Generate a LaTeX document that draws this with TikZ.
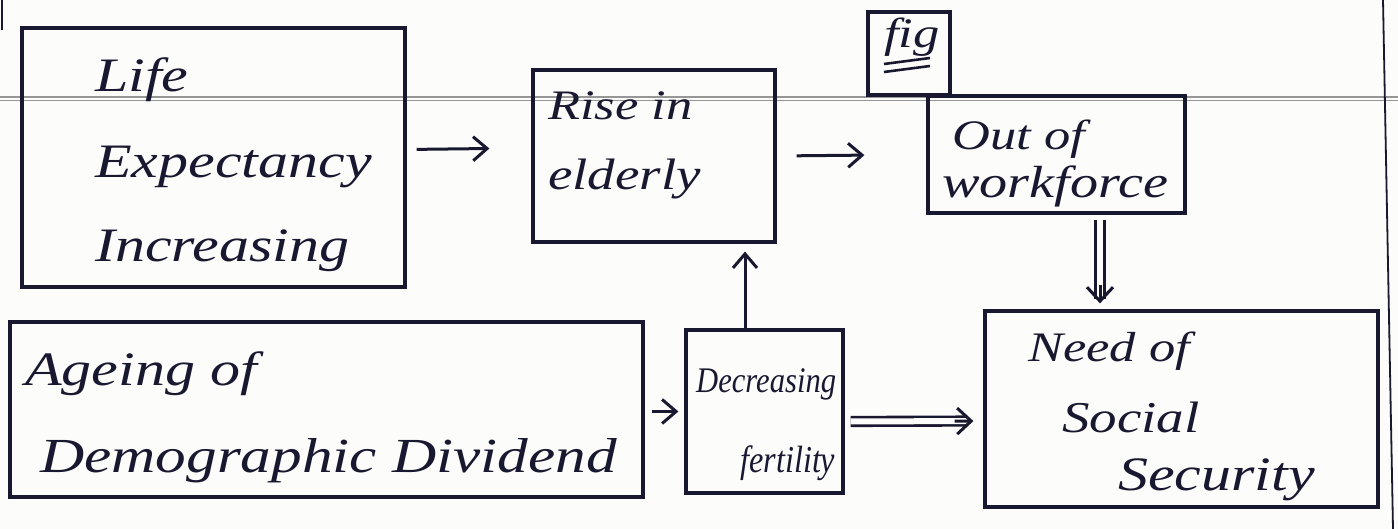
\documentclass[tikz,border=0pt]{standalone}
\usepackage{fontspec}
\newfontfamily\handfont{Liberation Serif}[FakeStretch=1.25]
\newfontfamily\handnarrow{Liberation Serif}[FakeStretch=0.85]
\usetikzlibrary{arrows.meta,calc}
\definecolor{ink}{RGB}{24,24,48}
\definecolor{paper}{RGB}{252,252,250}
\definecolor{rule}{RGB}{150,150,150}
\tikzset{
  box/.style={draw=ink, line width=3.2pt, inner sep=0pt},
  hand/.style={anchor=base west, inner sep=0pt, text=ink},
  arr/.style={draw=ink, line width=3pt, -{Straight Barb[length=14pt,width=24pt,line width=3pt]}},
  dbl/.style={draw=ink, line width=2.6pt, double=paper, double distance=6pt},
  dbltip/.style={draw=ink, line width=3pt, -{Straight Barb[length=14pt,width=26pt,line width=3pt]}},
}
\newcommand{\hf}[1]{\handfont\itshape\fontsize{#1}{#1}\selectfont}
\newcommand{\hn}[1]{\handnarrow\itshape\fontsize{#1}{#1}\selectfont}
\begin{document}
\begin{tikzpicture}[x=1pt,y=-1pt]
\useasboundingbox (0,0) rectangle (1398,529);
\fill[paper] (0,0) rectangle (1398,529);
% notebook rules
\draw[rule, line width=1.4pt] (0,97) -- (1398,97);
\draw[rule, line width=1pt] (0,101) -- (1398,101);
\draw[ink, line width=1.8pt] (1383,0) -- (1393,529);
\draw[ink, line width=1.8pt] (2,0) -- (2,30);
% boxes
\node[box, minimum width=383pt, minimum height=259pt] (life) at (213.5,157.5) {};
\node[box, minimum width=242pt, minimum height=172pt] (rise) at (654,156) {};
\node[box, minimum width=82pt,  minimum height=83pt]  (fig)  at (909,53.5) {};
\node[box, minimum width=257pt, minimum height=117pt] (out)  at (1056.5,154.5) {};
\node[box, minimum width=633pt, minimum height=175pt] (age)  at (326.5,409.5) {};
\node[box, minimum width=157pt, minimum height=163pt] (dec)  at (764.5,411.5) {};
\node[box, minimum width=393pt, minimum height=196pt] (need) at (1181.5,409) {};
% texts
\node[hand, font=\hf{48}] (t1) at (95,92) {Life};
\node[hand, font=\hf{48}] (t2) at (95,178) {Expectancy};
\node[hand, font=\hf{48}] (t3) at (95,262) {Increasing};
\node[hand, font=\hf{42}] (t4) at (548,120) {Rise in};
\node[hand, font=\hf{44}] (t5) at (548,190) {elderly};
\node[hand, font=\hf{42}] (t6) at (884,48) {fig};
\draw[ink, line width=2.6pt] (884,64) -- (930,58);
\draw[ink, line width=2.6pt] (884,72) -- (930,66);
\node[hand, font=\hf{42}] (t7) at (952,150) {Out of};
\node[hand, font=\hf{45}] (t8) at (942,198) {workforce};
\node[hand, font=\hf{48}] (t9) at (25,385) {Ageing of};
\node[hand, font=\hf{49}] (t10) at (40,472) {Demographic Dividend};
\node[hand, font=\hn{36}] (t11) at (696,392) {Decreasing};
\node[hand, font=\hn{38}] (t12) at (740,472) {fertility};
\node[hand, font=\hf{42}] (t13) at (1028,362) {Need of};
\node[hand, font=\hf{44}] (t14) at (1062,432) {Social};
\node[hand, font=\hf{48}] (t15) at (1118,490) {Security};
% connectors
\draw[arr, shorten <=10pt, shorten >=42pt] ([yshift=8pt]life.east) -- ([yshift=8pt]rise.west);
\draw[arr, shorten <=20pt, shorten >=62pt] (rise.east) -- (out.west);
\draw[arr, shorten <=7pt, shorten >=6pt] ([yshift=-2pt]age.east) -- (dec.west);
\draw[arr, shorten >=8pt] ($(dec.north)+(-19.5,0)$) -- ($(rise.south)+(91,0)$);
% double arrows: double shaft plus an open barb head
\draw[dbl, shorten <=5pt, shorten >=10pt] ($(out.south)+(43.5,0)$) -- ($(need.north)+(-81.5,0)$);
\draw[dbltip, shorten <=70pt, shorten >=6pt] ($(out.south)+(43.5,0)$) -- ($(need.north)+(-81.5,0)$);
\draw[dbl, shorten <=6pt, shorten >=16pt] ([yshift=-10pt]dec.east) -- ([yshift=-12pt]need.west);
\draw[dbltip, shorten <=110pt, shorten >=10pt] ([yshift=-10pt]dec.east) -- ([yshift=-12pt]need.west);
\end{tikzpicture}
\end{document}
